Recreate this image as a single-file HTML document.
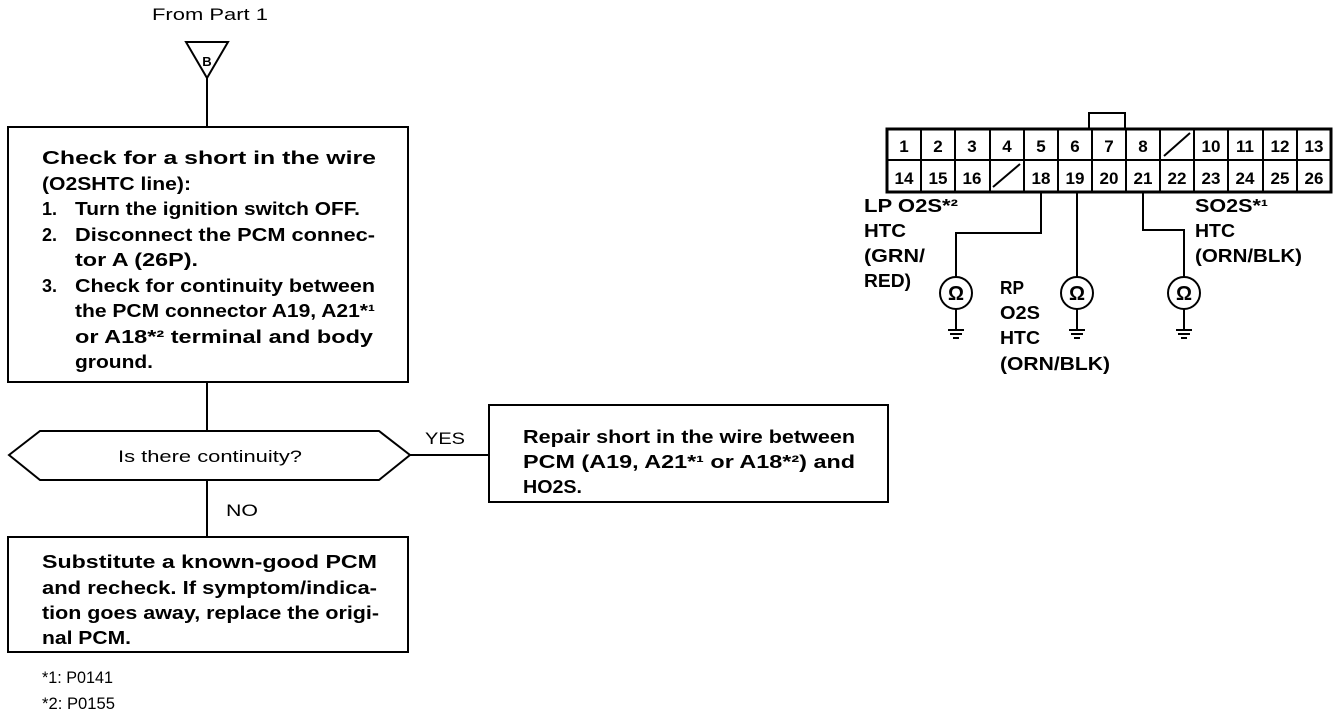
<!DOCTYPE html>
<html><head><meta charset="utf-8"><style>
html,body{margin:0;padding:0;background:#fff;}
svg{display:block;}
text{font-family:"Liberation Sans",sans-serif;fill:#000;}
.b{font-weight:bold;font-size:18px;}
.n{font-size:17px;}
.p{font-weight:bold;font-size:17px;text-anchor:middle;}
</style></head><body>
<svg width="1344" height="718" viewBox="0 0 1344 718" xmlns="http://www.w3.org/2000/svg">
<g stroke="#000" fill="none" stroke-width="2">
<polygon points="186,42 228,42 207,78"/>
<line x1="207" y1="78" x2="207" y2="127"/>
<rect x="8" y="127" width="400" height="255"/>
<line x1="207" y1="382" x2="207" y2="431"/>
<polygon points="9,455 40,431 379,431 410,455 379,480 40,480"/>
<line x1="410" y1="455" x2="489" y2="455"/>
<rect x="489" y="405" width="399" height="97"/>
<line x1="207" y1="480" x2="207" y2="537"/>
<rect x="8" y="537" width="400" height="115"/>
</g>
<text x="152" y="20" class="n" textLength="116" lengthAdjust="spacingAndGlyphs">From Part 1</text>
<text x="207" y="66" font-size="13" font-weight="bold" text-anchor="middle">B</text>
<g class="b" lengthAdjust="spacingAndGlyphs">
<text x="42" y="164" textLength="334" lengthAdjust="spacingAndGlyphs">Check for a short in the wire</text>
<text x="42" y="190" textLength="149" lengthAdjust="spacingAndGlyphs">(O2SHTC line):</text>
<text x="42" y="215">1.</text><text x="75" y="215" textLength="285" lengthAdjust="spacingAndGlyphs">Turn the ignition switch OFF.</text>
<text x="42" y="241">2.</text><text x="75" y="241" textLength="300" lengthAdjust="spacingAndGlyphs">Disconnect the PCM connec-</text>
<text x="75" y="266" textLength="123" lengthAdjust="spacingAndGlyphs">tor A (26P).</text>
<text x="42" y="292">3.</text><text x="75" y="292" textLength="300" lengthAdjust="spacingAndGlyphs">Check for continuity between</text>
<text x="75" y="317" textLength="300" lengthAdjust="spacingAndGlyphs">the PCM connector A19, A21*¹</text>
<text x="75" y="343" textLength="298" lengthAdjust="spacingAndGlyphs">or A18*² terminal and body</text>
<text x="75" y="368" textLength="78" lengthAdjust="spacingAndGlyphs">ground.</text>
<text x="523" y="443" textLength="332" lengthAdjust="spacingAndGlyphs">Repair short in the wire between</text>
<text x="523" y="468" textLength="332" lengthAdjust="spacingAndGlyphs">PCM (A19, A21*¹ or A18*²) and</text>
<text x="523" y="493" textLength="59" lengthAdjust="spacingAndGlyphs">HO2S.</text>
<text x="42" y="568" textLength="335" lengthAdjust="spacingAndGlyphs">Substitute a known-good PCM</text>
<text x="42" y="594" textLength="335" lengthAdjust="spacingAndGlyphs">and recheck. If symptom/indica-</text>
<text x="42" y="619" textLength="337" lengthAdjust="spacingAndGlyphs">tion goes away, replace the origi-</text>
<text x="42" y="644" textLength="89" lengthAdjust="spacingAndGlyphs">nal PCM.</text>
</g>
<text x="118" y="462" class="n" textLength="184" lengthAdjust="spacingAndGlyphs">Is there continuity?</text>
<text x="425" y="444" class="n" textLength="40" lengthAdjust="spacingAndGlyphs">YES</text>
<text x="226" y="516" class="n" textLength="32" lengthAdjust="spacingAndGlyphs">NO</text>
<text x="42" y="683" class="n" textLength="71" lengthAdjust="spacingAndGlyphs">*1: P0141</text>
<text x="42" y="709" class="n" textLength="73" lengthAdjust="spacingAndGlyphs">*2: P0155</text>
<!-- connector -->
<g stroke="#000" fill="none" stroke-width="2">
<rect x="1089" y="113" width="36" height="16"/>
<rect x="887" y="129" width="444" height="63" stroke-width="3"/>
<line x1="887" y1="160" x2="1331" y2="160"/>
<path d="M921,129V192M955,129V192M990,129V192M1024,129V192M1058,129V192M1092,129V192M1126,129V192M1160,129V192M1194,129V192M1228,129V192M1263,129V192M1297,129V192"/>
<line x1="1164" y1="156" x2="1190" y2="133"/>
<line x1="993" y1="187" x2="1020" y2="164"/>
<path d="M1041,192V233H956V278"/>
<path d="M1077,192V278"/>
<path d="M1143,192V230H1184V278"/>
<circle cx="956" cy="293" r="16"/>
<circle cx="1077" cy="293" r="16"/>
<circle cx="1184" cy="293" r="16"/>
<path d="M956,309V329M1077,309V329M1184,309V329"/>
<path d="M948,330H964M950,334H962M953,338H959"/>
<path d="M1069,330H1085M1071,334H1083M1074,338H1080"/>
<path d="M1176,330H1192M1178,334H1190M1181,338H1187"/>
</g>
<g font-size="20" font-weight="bold" text-anchor="middle">
<text x="956" y="300">Ω</text><text x="1077" y="300">Ω</text><text x="1184" y="300">Ω</text>
</g>
<g class="p">
<text x="904" y="152">1</text><text x="938" y="152">2</text><text x="972" y="152">3</text><text x="1007" y="152">4</text><text x="1041" y="152">5</text><text x="1075" y="152">6</text><text x="1109" y="152">7</text><text x="1143" y="152">8</text><text x="1211" y="152">10</text><text x="1245" y="152">11</text><text x="1280" y="152">12</text><text x="1314" y="152">13</text>
<text x="904" y="184">14</text><text x="938" y="184">15</text><text x="972" y="184">16</text><text x="1041" y="184">18</text><text x="1075" y="184">19</text><text x="1109" y="184">20</text><text x="1143" y="184">21</text><text x="1177" y="184">22</text><text x="1211" y="184">23</text><text x="1245" y="184">24</text><text x="1280" y="184">25</text><text x="1314" y="184">26</text>
</g>
<g class="b" font-size="17">
<text x="864" y="212" textLength="94" lengthAdjust="spacingAndGlyphs">LP O2S*²</text><text x="864" y="237" textLength="42" lengthAdjust="spacingAndGlyphs">HTC</text><text x="864" y="262" textLength="61" lengthAdjust="spacingAndGlyphs">(GRN/</text><text x="864" y="287" textLength="47" lengthAdjust="spacingAndGlyphs">RED)</text>
<text x="1000" y="294" textLength="24" lengthAdjust="spacingAndGlyphs">RP</text><text x="1000" y="319" textLength="40" lengthAdjust="spacingAndGlyphs">O2S</text><text x="1000" y="344" textLength="40" lengthAdjust="spacingAndGlyphs">HTC</text><text x="1000" y="370" textLength="110" lengthAdjust="spacingAndGlyphs">(ORN/BLK)</text>
<text x="1195" y="212" textLength="73" lengthAdjust="spacingAndGlyphs">SO2S*¹</text><text x="1195" y="237" textLength="40" lengthAdjust="spacingAndGlyphs">HTC</text><text x="1195" y="262" textLength="107" lengthAdjust="spacingAndGlyphs">(ORN/BLK)</text>
</g>
</svg>
</body></html>
